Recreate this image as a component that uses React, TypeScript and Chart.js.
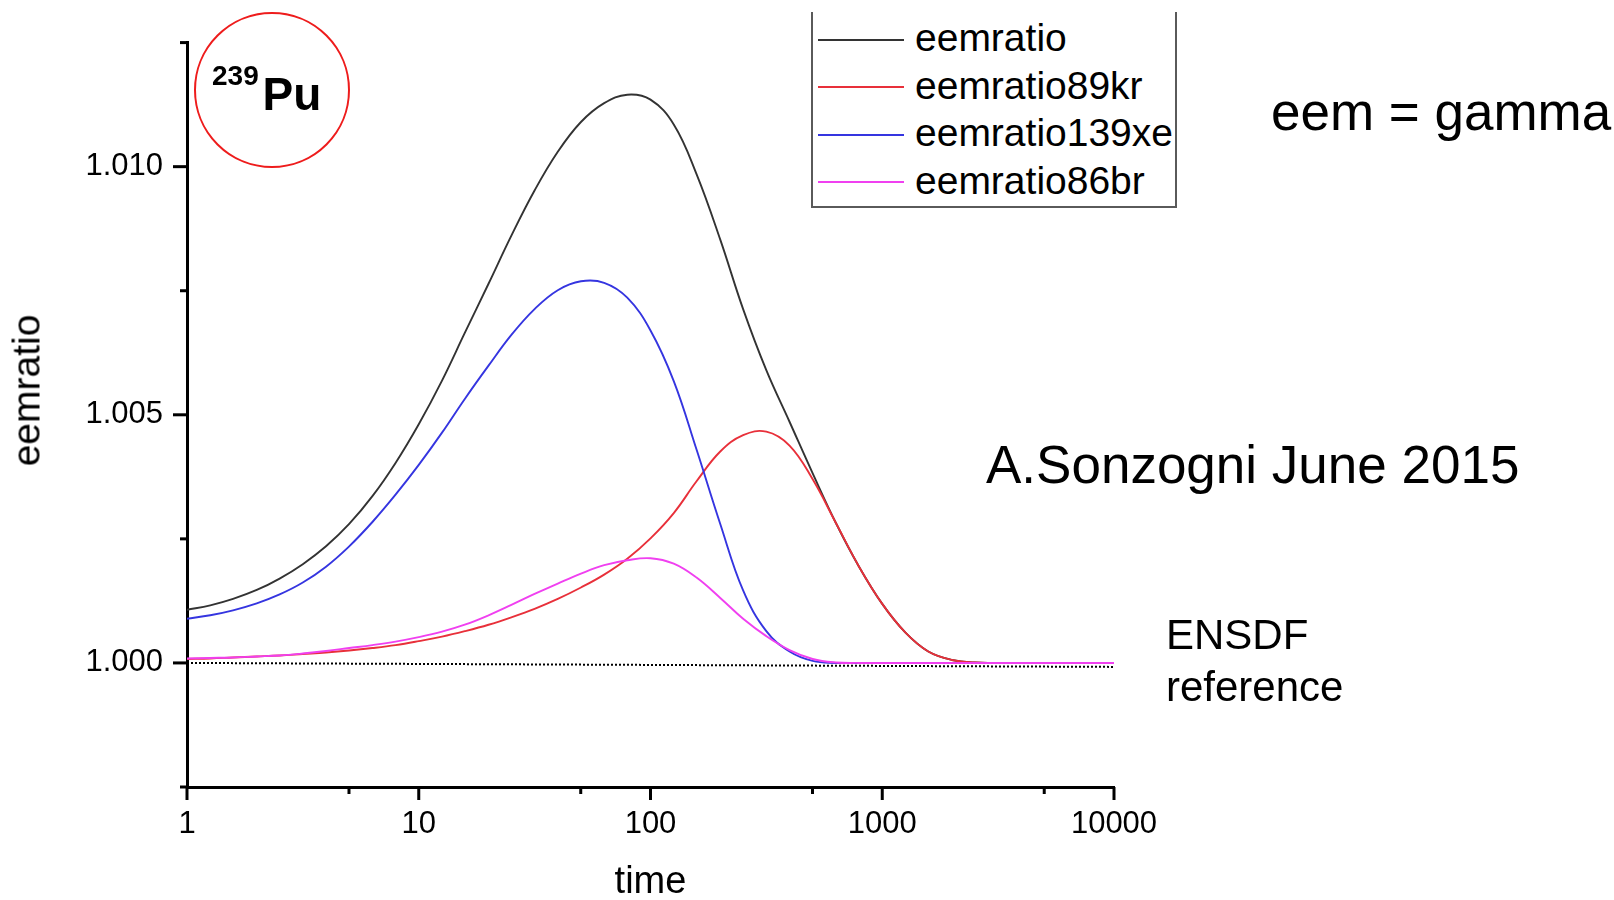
import { useEffect, useRef } from "react";
import { Chart, registerables } from "chart.js";

Chart.register(...registerables);

const FONT = "'Liberation Sans', Arial, Helvetica, sans-serif";

// Time grid shared by all series (ten steps per decade on the log axis)
const times = [1, 1.26, 1.58, 2, 2.51, 3.16, 3.98, 5.01, 6.31, 7.94, 10, 12.6, 15.8, 20, 25.1, 31.6, 39.8, 50.1, 63.1, 79.4, 100, 126, 158, 200, 251, 316, 398, 501, 631, 794, 1000, 1260, 1580, 2000, 2510, 3980, 6310, 10000];

const eemratio = [
  1.00107, 1.00116, 1.00129, 1.00147, 1.0017, 1.00199, 1.00235, 1.0028, 1.00336, 1.00403,
  1.00481, 1.00569, 1.00665, 1.00764, 1.00861, 1.00952, 1.0103, 1.0109, 1.01128, 1.01145,
  1.01135, 1.01085, 1.00985, 1.00853, 1.00713, 1.0059, 1.00486, 1.00382, 1.00282, 1.00194,
  1.00119, 1.00061, 1.00023, 1.00006, 1.00001, 1.0, 1.0, 1.0,
];
const eemratio89kr = [
  1.00008, 1.00009, 1.00011, 1.00013, 1.00015, 1.00018, 1.00021, 1.00025, 1.0003, 1.00036,
  1.00044, 1.00053, 1.00064, 1.00077, 1.00092, 1.00109, 1.00129, 1.00152, 1.00178, 1.0021,
  1.00251, 1.00302, 1.00366, 1.00426, 1.00459, 1.00466, 1.00438, 1.0037, 1.00282, 1.00194,
  1.00119, 1.00061, 1.00023, 1.00006, 1.00001, 1.0, 1.0, 1.0,
];
const eemratio139xe = [
  1.00089, 1.00096, 1.00106, 1.0012, 1.00138, 1.00162, 1.00194, 1.00235, 1.00284, 1.00339,
  1.00399, 1.00464, 1.00532, 1.00599, 1.00661, 1.00713, 1.00751, 1.00769, 1.00766, 1.00736,
  1.0067, 1.00568, 1.0043, 1.0028, 1.00146, 1.00064, 1.00023, 1.00004, 1.0, 1.0,
  1.0, 1.0, 1.0, 1.0, 1.0, 1.0, 1.0, 1.0,
];
const eemratio86br = [
  1.00009, 1.0001, 1.00011, 1.00013, 1.00015, 1.00019, 1.00024, 1.0003, 1.00036, 1.00043,
  1.00052, 1.00063, 1.00077, 1.00096, 1.00117, 1.00139, 1.0016, 1.0018, 1.00197, 1.00207,
  1.00211, 1.002, 1.00172, 1.00131, 1.00089, 1.00054, 1.00026, 1.00008, 1.00001, 1.0,
  1.0, 1.0, 1.0, 1.0, 1.0, 1.0, 1.0, 1.0,
];

// ENSDF reference level (dotted)
const referenceTimes = [1, 10000];
const referenceValues = [1.0, 0.99992];

const seriesNames = ["eemratio", "eemratio89kr", "eemratio139xe", "eemratio86br"];
const seriesColors = ["#333333", "#e8303a", "#3535e0", "#f040f0"];

const xTickValues = [1, 5, 10, 50, 100, 500, 1000, 5000, 10000];
const xLabelValues = [1, 10, 100, 1000, 10000];
const yTickValues = [0.9975, 1.0, 1.0025, 1.005, 1.0075, 1.01, 1.0125];
const yLabelValues = [1.0, 1.005, 1.01];

const isIn = (v: number, list: number[]) => list.some((l) => Math.abs(l - v) < 1e-9 * Math.max(1, Math.abs(l)));

const toPoints = (xs: number[], ys: number[]) => xs.map((x, i) => ({ x, y: ys[i] }));

// Major / minor tick marks on both axes
const tickMarks = {
  id: "tickMarks",
  afterDraw(chart: any) {
    const { ctx, chartArea, scales } = chart;
    ctx.save();
    ctx.strokeStyle = "#000";
    ctx.lineWidth = 3;
    for (const v of yTickValues) {
      const y = scales.y.getPixelForValue(v);
      const len = isIn(v, yLabelValues) ? 14 : 7;
      ctx.beginPath();
      ctx.moveTo(chartArea.left, y);
      ctx.lineTo(chartArea.left - len, y);
      ctx.stroke();
    }
    for (const v of xTickValues) {
      const x = scales.x.getPixelForValue(v);
      const len = isIn(v, xLabelValues) ? 13 : 7;
      ctx.beginPath();
      ctx.moveTo(x, chartArea.bottom);
      ctx.lineTo(x, chartArea.bottom + len);
      ctx.stroke();
    }
    ctx.restore();
  },
};

function Label(props: { x: number; baseline: number; size: number; bold?: boolean; children: any }) {
  const { x, baseline, size, bold, children } = props;
  return (
    <div
      style={{
        position: "absolute",
        left: x,
        top: baseline - 0.8465 * size,
        fontSize: size,
        lineHeight: `${size}px`,
        fontWeight: bold ? 700 : 400,
        whiteSpace: "nowrap",
        color: "#000",
      }}
    >
      {children}
    </div>
  );
}

export default function App() {
  const canvasRef = useRef<HTMLCanvasElement | null>(null);

  useEffect(() => {
    const canvas = canvasRef.current;
    if (!canvas) return;
    Chart.defaults.font.family = FONT;
    Chart.defaults.color = "#000";

    const seriesValues = [eemratio, eemratio89kr, eemratio139xe, eemratio86br];
    const orders = [4, 3, 2, 1];

    const chart = new Chart(canvas, {
      type: "line",
      data: {
        datasets: [
          ...seriesValues.map((vals, i) => ({
            label: seriesNames[i],
            data: toPoints(times, vals),
            borderColor: seriesColors[i],
            borderWidth: 1.9,
            pointRadius: 0,
            fill: false,
            tension: 0.4,
            order: orders[i],
          })),
          {
            label: "ENSDF reference",
            data: toPoints(referenceTimes, referenceValues),
            borderColor: "#000",
            borderWidth: 2,
            borderDash: [2, 2],
            pointRadius: 0,
            fill: false,
            order: 10,
          },
        ],
      },
      options: {
        responsive: false,
        animation: false,
        devicePixelRatio: 1,
        layout: { padding: { left: 0, top: 39, right: 500, bottom: 0 } },
        plugins: {
          legend: { display: false },
          tooltip: { enabled: false },
        },
        scales: {
          x: {
            type: "logarithmic",
            min: 1,
            max: 10000,
            afterBuildTicks: (scale: any) => {
              scale.ticks = xTickValues.map((v) => ({ value: v }));
            },
            afterFit: (scale: any) => {
              scale.height = 113;
            },
            grid: { display: false, drawTicks: false, tickLength: 0 },
            border: { display: true, color: "#000", width: 3 },
            ticks: {
              autoSkip: false,
              maxRotation: 0,
              padding: 19,
              color: "#000",
              font: { size: 31 },
              callback: (value: any) => (isIn(Number(value), xLabelValues) ? String(value) : ""),
            },
            title: {
              display: true,
              text: "time",
              color: "#000",
              font: { size: 38, lineHeight: 0.85 },
              padding: { top: 0, bottom: 1 },
            },
          },
          y: {
            type: "linear",
            min: 0.9975,
            max: 1.0125,
            afterBuildTicks: (scale: any) => {
              scale.ticks = yTickValues.map((v) => ({ value: v }));
            },
            afterFit: (scale: any) => {
              scale.width = 187;
            },
            grid: { display: false, drawTicks: false, tickLength: 0 },
            border: { display: true, color: "#000", width: 3 },
            ticks: {
              autoSkip: false,
              padding: 24,
              color: "#000",
              font: { size: 31 },
              callback: (value: any) => (isIn(Number(value), yLabelValues) ? Number(value).toFixed(3) : ""),
            },
          },
        },
      },
      plugins: [tickMarks],
    } as any);

    return () => chart.destroy();
  }, []);

  const legendRowY = (i: number) => 39.5 + i * 47.5;

  return (
    <div
      style={{
        position: "fixed",
        left: 0,
        top: 0,
        width: 1614,
        height: 900,
        background: "#fff",
        overflow: "hidden",
        fontFamily: FONT,
        color: "#000",
      }}
    >
      <canvas
        ref={canvasRef}
        width={1614}
        height={900}
        style={{ position: "absolute", left: 0, top: 0, width: 1614, height: 900 }}
      />

      {/* y axis title */}
      <div
        style={{
          position: "absolute",
          left: 25.5 - 100,
          top: 390 - 19.5,
          width: 200,
          height: 39,
          fontSize: 39,
          lineHeight: "39px",
          textAlign: "center",
          transform: "rotate(-90deg)",
          whiteSpace: "nowrap",
        }}
      >
        eemratio
      </div>

      {/* nuclide badge */}
      <div
        style={{
          position: "absolute",
          left: 194,
          top: 12,
          width: 156,
          height: 156,
          borderRadius: "50%",
          border: "2px solid #ee1c1c",
          boxSizing: "border-box",
        }}
      />
      <Label x={212} baseline={86} size={28} bold>
        239
      </Label>
      <Label x={262.5} baseline={110} size={46} bold>
        Pu
      </Label>

      {/* legend */}
      <div
        style={{
          position: "absolute",
          left: 811,
          top: 12,
          width: 366,
          height: 196,
          borderLeft: "2px solid #5a5a5a",
          borderRight: "2px solid #5a5a5a",
          borderBottom: "2px solid #5a5a5a",
          boxSizing: "border-box",
          background: "#fff",
        }}
      />
      {seriesNames.map((name, i) => (
        <div key={name}>
          <div
            style={{
              position: "absolute",
              left: 818,
              top: legendRowY(i) - 1,
              width: 86,
              height: 2,
              background: seriesColors[i],
            }}
          />
          <Label x={915} baseline={legendRowY(i) + 12} size={39}>
            {name}
          </Label>
        </div>
      ))}

      <Label x={1271} baseline={130} size={53}>
        eem = gamma
      </Label>
      <Label x={986} baseline={483} size={53}>
        A.Sonzogni June 2015
      </Label>
      <Label x={1166} baseline={650} size={42}>
        ENSDF
      </Label>
      <Label x={1166} baseline={702} size={42}>
        reference
      </Label>
    </div>
  );
}
